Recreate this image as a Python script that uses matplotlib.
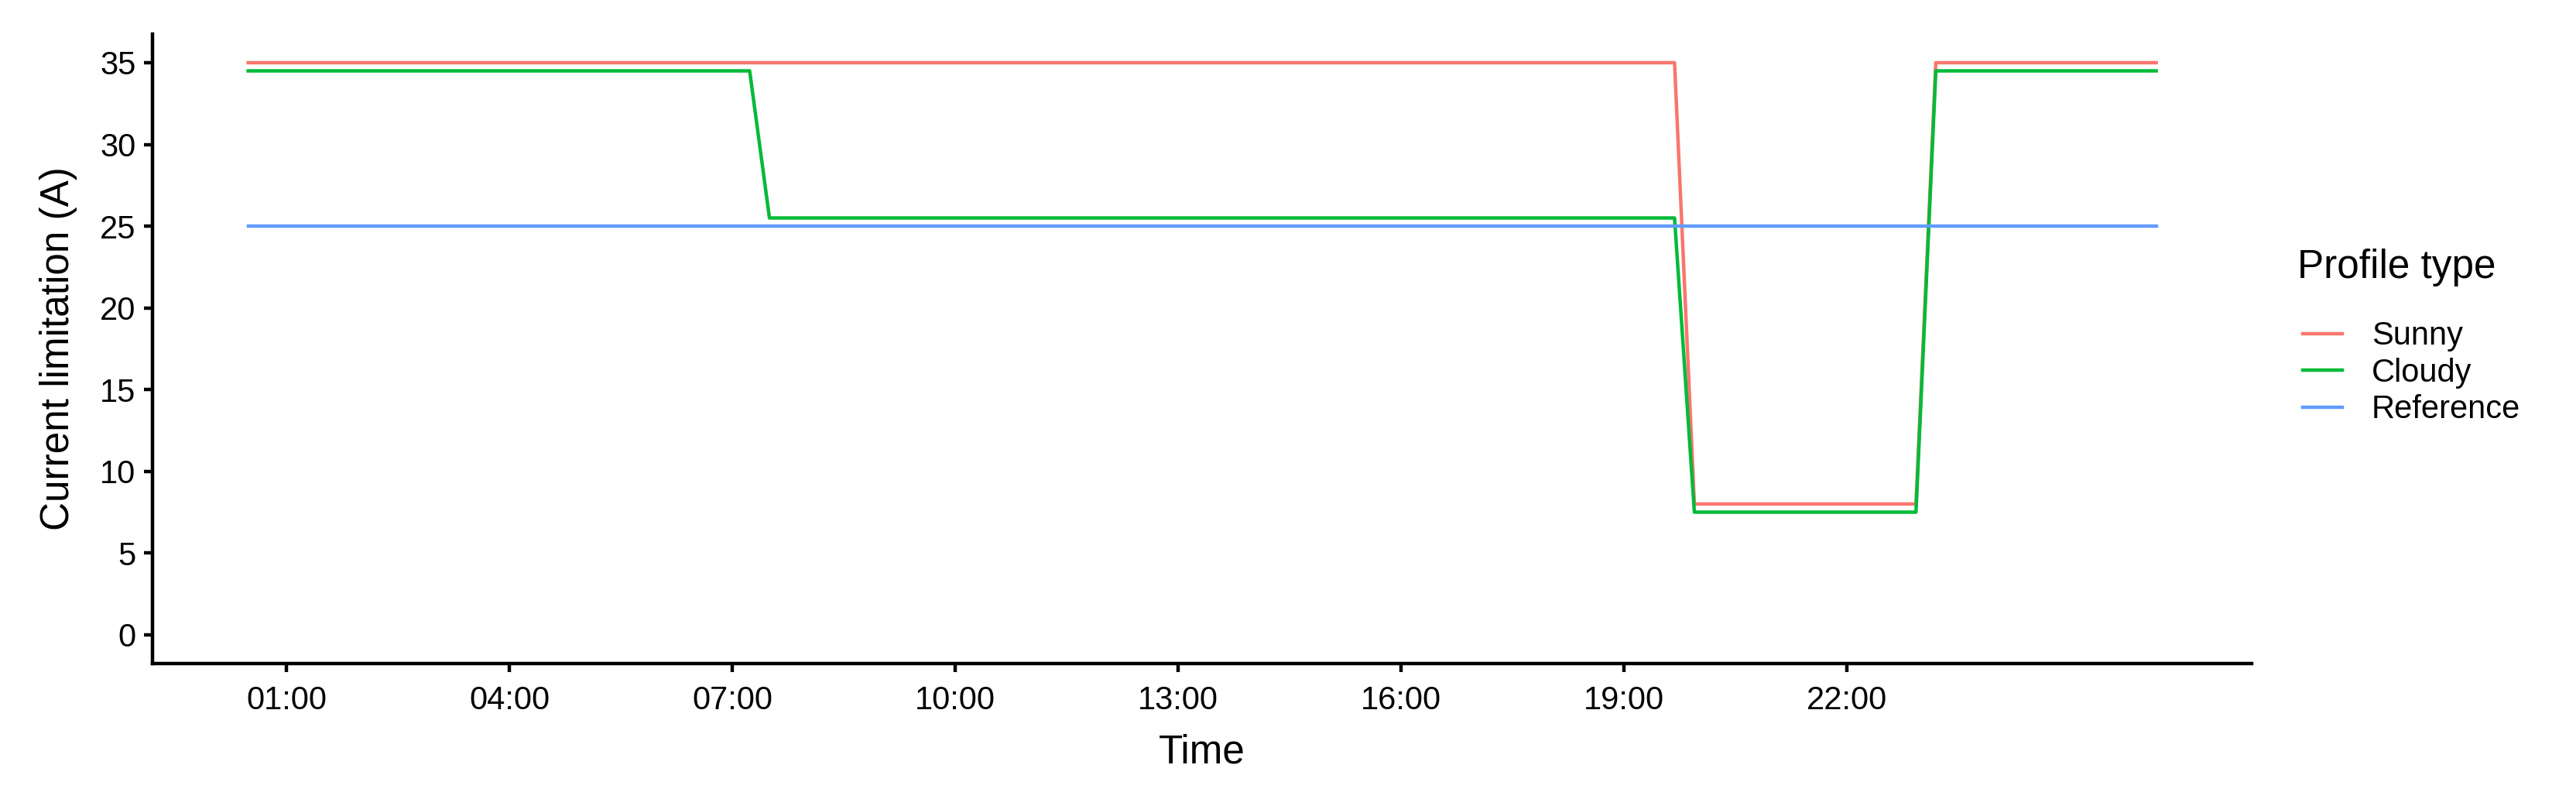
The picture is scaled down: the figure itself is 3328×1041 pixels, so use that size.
import numpy as np
import pandas as pd
import matplotlib
matplotlib.use("Agg")
import matplotlib.pyplot as plt

plt.rcParams['font.family'] = ['Liberation Sans', 'DejaVu Sans']

# profile corners, straight segments in between
sunny_time = ["01-01 00:29", "01-01 19:41", "01-01 19:57", "01-01 22:56",
              "01-01 23:12", "01-02 02:10"]
sunny_val = [35, 35, 8, 8, 35, 35]

cloudy_time = ["01-01 00:29", "01-01 07:14", "01-01 07:30", "01-01 19:41",
               "01-01 19:57", "01-01 22:56", "01-01 23:12", "01-02 02:10"]
cloudy_val = [34.5, 34.5, 25.5, 25.5, 7.5, 7.5, 34.5, 34.5]

ref_time = ["01-01 00:29", "01-02 02:10"]
ref_val = [25, 25]

labels = ["Sunny", "Cloudy", "Reference"]
colors = ["#F8766D", "#00BA38", "#619CFF"]
x_ticks = ["01-01 01:00", "01-01 04:00", "01-01 07:00", "01-01 10:00",
           "01-01 13:00", "01-01 16:00", "01-01 19:00", "01-01 22:00"]
y_ticks = [0, 5, 10, 15, 20, 25, 30, 35]


def to_dt(ts):
    return pd.to_datetime(["2020-" + t for t in ts])


fig = plt.figure(figsize=(3329 / 300, 1041 / 300), dpi=300)
ax = fig.add_axes([0.0593, 0.1770, 0.8145, 0.7807])

series = [(sunny_time, sunny_val), (cloudy_time, cloudy_val), (ref_time, ref_val)]
for (t, v), lab, c in zip(series, labels, colors):
    ax.plot(to_dt(t), v, color=c, lw=1.07, label=lab)

t0 = to_dt(ref_time)[0]
t1 = to_dt(ref_time)[-1]
pad = (t1 - t0) * 0.05
ax.set_xlim(t0 - pad, t1 + pad)
ax.set_ylim(-1.75, 36.75)

xt = to_dt(x_ticks)
ax.set_xticks(xt)
ax.set_xticklabels(xt.strftime("%H:%M"))
ax.set_yticks(y_ticks)

for s in ["top", "right"]:
    ax.spines[s].set_visible(False)
for s in ["left", "bottom"]:
    ax.spines[s].set_linewidth(1.07)
ax.tick_params(axis="both", length=2.75, width=1.07, labelsize=10,
               color="black", labelcolor="black", pad=2.5)
ax.tick_params(axis="x", pad=4)

ax.set_xlabel("Time", fontsize=12.3, labelpad=5.5)
ax.set_ylabel("Current limitation (A)", fontsize=12.3, labelpad=7)

fig.text(2968 / 3329, 1 - 346 / 1041, "Profile type", fontsize=12.3,
         ha="left", va="center")
leg = ax.legend(loc="center left", bbox_to_anchor=(2975 / 3329, 1 - 482 / 1041),
                bbox_transform=fig.transFigure, frameon=False, fontsize=10,
                handlelength=1.22, handletextpad=0.91, labelspacing=0.18,
                borderpad=0, borderaxespad=0)

fig.savefig("out.png", dpi=300)
